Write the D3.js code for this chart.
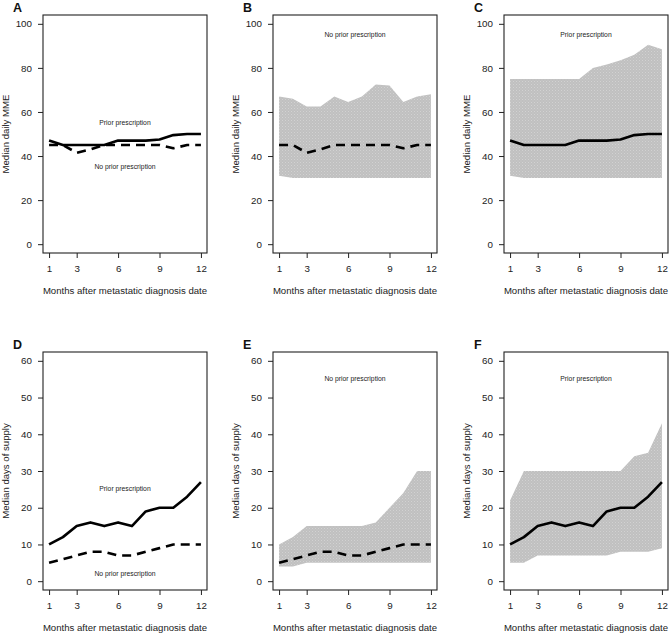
<!DOCTYPE html>
<html>
<head>
<meta charset="utf-8">
<script src="https://cdn.jsdelivr.net/npm/d3@7"></script>
<style>
  html, body { margin: 0; padding: 0; background: #fff; }
  svg { display: block; font-family: "Liberation Sans", Arial, Helvetica, sans-serif; }
</style>
</head>
<body>
<svg id="chart" width="669" height="635"></svg>
<script>
// ---------- data ----------
const months = [1, 2, 3, 4, 5, 6, 7, 8, 9, 10, 11, 12];
const xTicks = [1, 3, 6, 9, 12];

// Median daily MME
const mmePrior   = [47, 45, 45, 45, 45, 47, 47, 47, 47.5, 49.5, 50, 50];
const mmeNoPrior = [45, 45, 41.5, 43, 45, 45, 45, 45, 45, 43.5, 45, 45];
const mmeNoPriorUpper = [67, 66, 62.5, 62.5, 67, 64.5, 67, 72.5, 72, 64.5, 67, 68];
const mmeNoPriorLower = [31, 30, 30, 30, 30, 30, 30, 30, 30, 30, 30, 30];
const mmePriorUpper = [75, 75, 75, 75, 75, 75, 80, 81.5, 83.5, 86, 90.5, 88.5];
const mmePriorLower = [31, 30, 30, 30, 30, 30, 30, 30, 30, 30, 30, 30];
const mmeTicks = [0, 20, 40, 60, 80, 100];

// Median days of supply
const daysPrior   = [10, 12, 15, 16, 15, 16, 15, 19, 20, 20, 23, 27];
const daysNoPrior = [5, 6, 7, 8, 8, 7, 7, 8, 9, 10, 10, 10];
const daysNoPriorUpper = [10, 12, 15, 15, 15, 15, 15, 16, 20, 24, 30, 30];
const daysNoPriorLower = [4, 4, 5, 5, 5, 5, 5, 5, 5, 5, 5, 5];
const daysPriorUpper = [22, 30, 30, 30, 30, 30, 30, 30, 30, 34, 35, 43];
const daysPriorLower = [5, 5, 7, 7, 7, 7, 7, 7, 8, 8, 8, 9];
const daysTicks = [0, 10, 20, 30, 40, 50, 60];

const xTitle = "Months after metastatic diagnosis date";
const labelPrior = "Prior prescription";
const labelNoPrior = "No prior prescription";

// ---------- panels ----------
const panels = [
  { letter: "A", col: 0, row: 0, yTitle: "Median daily MME", yMax: 100, ticks: mmeTicks,
    lines: [{ v: mmePrior, dash: false }, { v: mmeNoPrior, dash: true }],
    labels: [{ t: labelPrior, y: 55 }, { t: labelNoPrior, y: 35 }] },
  { letter: "B", col: 1, row: 0, yTitle: "Median daily MME", yMax: 100, ticks: mmeTicks,
    band: { lo: mmeNoPriorLower, hi: mmeNoPriorUpper },
    lines: [{ v: mmeNoPrior, dash: true }],
    labels: [{ t: labelNoPrior, y: 95 }] },
  { letter: "C", col: 2, row: 0, yTitle: "Median daily MME", yMax: 100, ticks: mmeTicks,
    band: { lo: mmePriorLower, hi: mmePriorUpper },
    lines: [{ v: mmePrior, dash: false }],
    labels: [{ t: labelPrior, y: 95 }] },
  { letter: "D", col: 0, row: 1, yTitle: "Median days of supply", yMax: 60, ticks: daysTicks,
    lines: [{ v: daysPrior, dash: false }, { v: daysNoPrior, dash: true }],
    labels: [{ t: labelPrior, y: 25 }, { t: labelNoPrior, y: 2 }] },
  { letter: "E", col: 1, row: 1, yTitle: "Median days of supply", yMax: 60, ticks: daysTicks,
    band: { lo: daysNoPriorLower, hi: daysNoPriorUpper },
    lines: [{ v: daysNoPrior, dash: true }],
    labels: [{ t: labelNoPrior, y: 55 }] },
  { letter: "F", col: 2, row: 1, yTitle: "Median days of supply", yMax: 60, ticks: daysTicks,
    band: { lo: daysPriorLower, hi: daysPriorUpper },
    lines: [{ v: daysPrior, dash: false }],
    labels: [{ t: labelPrior, y: 55 }] }
];

const svg = d3.select("#chart");

// stippled grey fill like the reference
const pat = svg.append("defs").append("pattern")
  .attr("id", "stipple").attr("patternUnits", "userSpaceOnUse")
  .attr("width", 3).attr("height", 3);
pat.append("rect").attr("width", 3).attr("height", 3).attr("fill", "#c0c0c0");
pat.append("rect").attr("x", 0).attr("y", 0).attr("width", 1).attr("height", 1).attr("fill", "#d2d2d2");
pat.append("rect").attr("x", 1.5).attr("y", 1.5).attr("width", 1).attr("height", 1).attr("fill", "#cdcdcd");

const boxLeft = [43, 273, 504];
const boxW = 164;
const rowTop = [15, 352];
const boxH = 238;

panels.forEach(p => {
  const L = boxLeft[p.col], T = rowTop[p.row], R = L + boxW, B = T + boxH;
  const xPad = (12 - 1) * 0.04, yPad = p.yMax * 0.04;
  const x = d3.scaleLinear().domain([1 - xPad, 12 + xPad]).range([L, R]);
  const y = d3.scaleLinear().domain([-yPad, p.yMax + yPad]).range([B, T]);
  const g = svg.append("g");

  if (p.band) {
    const area = d3.area()
      .x((d, i) => x(months[i]))
      .y0((d, i) => y(p.band.lo[i]))
      .y1((d, i) => y(p.band.hi[i]));
    g.append("path").datum(months).attr("d", area)
      .attr("fill", "url(#stipple)").attr("stroke", "none");
  }

  const line = d3.line().x((d, i) => x(months[i])).y(d => y(d));
  p.lines.forEach(l => {
    g.append("path").datum(l.v).attr("d", line)
      .attr("fill", "none").attr("stroke", "#000")
      .attr("stroke-width", 2.6)
      .attr("stroke-linejoin", "round")
      .attr("stroke-dasharray", l.dash ? "9,6" : null);
  });

  p.labels.forEach(lb => {
    g.append("text").attr("x", x(6.5)).attr("y", y(lb.y))
      .attr("text-anchor", "middle").attr("dominant-baseline", "middle")
      .attr("font-size", 6.8).attr("fill", "#222").text(lb.t);
  });

  // box
  g.append("rect").attr("x", L).attr("y", T).attr("width", boxW).attr("height", boxH)
    .attr("fill", "none").attr("stroke", "#222").attr("stroke-width", 1.1);

  // x axis
  const xa = g.append("g").attr("transform", `translate(0,${B})`)
    .call(d3.axisBottom(x).tickValues(xTicks).tickSize(5).tickSizeOuter(0).tickPadding(7));
  xa.select(".domain").remove();
  xa.selectAll("text").attr("font-size", 9.8).attr("fill", "#222").style("font-family", "inherit");
  xa.selectAll("line").attr("stroke", "#222");

  // y axis
  const ya = g.append("g").attr("transform", `translate(${L},0)`)
    .call(d3.axisLeft(y).tickValues(p.ticks).tickSize(5).tickSizeOuter(0).tickPadding(6));
  ya.select(".domain").remove();
  ya.selectAll("text").attr("font-size", 9.8).attr("fill", "#222").style("font-family", "inherit");
  ya.selectAll("line").attr("stroke", "#222");

  // titles
  g.append("text").attr("x", (x(1) + x(12)) / 2).attr("y", B + 38)
    .attr("text-anchor", "middle").attr("dominant-baseline", "middle")
    .attr("font-size", 9.6).attr("fill", "#222").text(xTitle);
  g.append("text")
    .attr("transform", `translate(${L - 37},${(T + B) / 2}) rotate(-90)`)
    .attr("text-anchor", "middle").attr("dominant-baseline", "middle")
    .attr("font-size", 9.6).attr("fill", "#222").text(p.yTitle);

  // panel letter
  g.append("text").attr("x", L - 30).attr("y", T - 3.5)
    .attr("font-size", 12.5).attr("font-weight", "bold").attr("fill", "#111").text(p.letter);
});
</script>
</body>
</html>
